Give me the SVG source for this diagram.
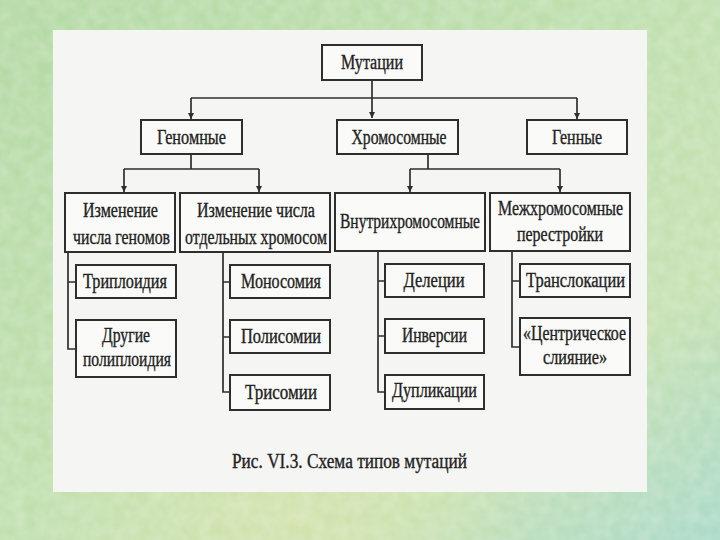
<svg xmlns="http://www.w3.org/2000/svg" width="720" height="540" viewBox="0 0 720 540">
<defs>
<linearGradient id="bg" x1="0" y1="0" x2="1" y2="1">
<stop offset="0" stop-color="#b3d9a4"/>
<stop offset="0.45" stop-color="#bfdfae"/>
<stop offset="0.75" stop-color="#c6e1b2"/>
<stop offset="1" stop-color="#aad9c8"/>
</linearGradient>
<radialGradient id="warm" cx="0.4" cy="0.95" r="0.35">
<stop offset="0" stop-color="#d6e3ac" stop-opacity="0.8"/>
<stop offset="1" stop-color="#d6e3ac" stop-opacity="0"/>
</radialGradient>
<filter id="tex" x="0" y="0" width="100%" height="100%">
<feTurbulence type="fractalNoise" baseFrequency="0.08" numOctaves="2" seed="3"/>
<feColorMatrix values="0 0 0 0 1  0 0 0 0 1  0 0 0 0 1  0 0 0 0.35 -0.08"/>
</filter>
<marker id="arr" viewBox="0 0 8 10" refX="8" refY="5" markerWidth="6" markerHeight="8" orient="auto" markerUnits="userSpaceOnUse">
<path d="M0,1 L8,5 L0,9 Z" fill="#2e2e2e"/>
</marker>
<style>
.box{fill:#fafaf8;stroke:#2e2e2e;stroke-width:2}
.ln{fill:none;stroke:#2e2e2e;stroke-width:1.7}
.t{font-family:"Liberation Serif","Times New Roman",serif;font-size:20px;fill:#222;stroke:#222;stroke-width:0.35;text-anchor:middle}
</style>
</defs>
<rect x="0" y="0" width="720" height="540" fill="url(#bg)"/>
<rect x="0" y="0" width="720" height="540" fill="url(#warm)"/>
<rect x="0" y="0" width="720" height="540" filter="url(#tex)"/>
<rect x="53" y="30" width="594" height="462" fill="#f5f5f3"/>

<g id="connectors">
<path class="ln" d="M372,80 V118" marker-end="url(#arr)"/>
<path class="ln" d="M191,98 H577"/>
<path class="ln" d="M191,98 V119" marker-end="url(#arr)"/>
<path class="ln" d="M577,98 V119" marker-end="url(#arr)"/>
<path class="ln" d="M191,154 V169 M124,169 H259"/>
<path class="ln" d="M124,169 V192" marker-end="url(#arr)"/>
<path class="ln" d="M259,169 V192" marker-end="url(#arr)"/>
<path class="ln" d="M428,154 V169 M410,169 H560"/>
<path class="ln" d="M410,169 V192" marker-end="url(#arr)"/>
<path class="ln" d="M560,169 V192" marker-end="url(#arr)"/>
<path class="ln" d="M68,252 V349 H76 M68,282 H76"/>
<path class="ln" d="M223,252 V392 H230 M223,282 H230 M223,337 H230"/>
<path class="ln" d="M378,251 V392 H385 M378,281 H385 M378,336 H385"/>
<path class="ln" d="M512,251 V347 H520 M512,281 H520"/>
</g>

<g id="n-mutatsii"><rect class="box" x="322" y="45" width="100" height="35"/><text class="t" x="372" y="69" textLength="62" lengthAdjust="spacingAndGlyphs">Мутации</text></g>
<g id="n-genomnye"><rect class="box" x="141" y="120" width="101" height="34"/><text class="t" x="191.5" y="144" textLength="69" lengthAdjust="spacingAndGlyphs">Геномные</text></g>
<g id="n-khromosomnye"><rect class="box" x="337" y="120" width="121" height="34"/><text class="t" x="399" y="144" textLength="95" lengthAdjust="spacingAndGlyphs">Хромосомные</text></g>
<g id="n-gennye"><rect class="box" x="527" y="120" width="100" height="34"/><text class="t" x="577" y="144" textLength="50" lengthAdjust="spacingAndGlyphs">Генные</text></g>

<g id="n-izm-genomov"><rect class="box" x="65" y="193" width="110" height="59"/><text class="t" x="120.5" y="217" textLength="75" lengthAdjust="spacingAndGlyphs">Изменение</text><text class="t" x="121.5" y="244" textLength="97" lengthAdjust="spacingAndGlyphs">числа геномов</text></g>
<g id="n-izm-khromosom"><rect class="box" x="180" y="193" width="150" height="59"/><text class="t" x="256" y="217" textLength="118" lengthAdjust="spacingAndGlyphs">Изменение числа</text><text class="t" x="256" y="244" textLength="142" lengthAdjust="spacingAndGlyphs">отдельных хромосом</text></g>
<g id="n-vnutri"><rect class="box" x="335" y="193" width="150" height="58"/><text class="t" x="410" y="228" textLength="140" lengthAdjust="spacingAndGlyphs">Внутрихромосомные</text></g>
<g id="n-mezh"><rect class="box" x="490" y="193" width="140" height="58"/><text class="t" x="560.5" y="215" textLength="125" lengthAdjust="spacingAndGlyphs">Межхромосомные</text><text class="t" x="560" y="241" textLength="86" lengthAdjust="spacingAndGlyphs">перестройки</text></g>

<g id="n-triploidiya"><rect class="box" x="76" y="265" width="100" height="33"/><text class="t" x="125" y="288" textLength="84" lengthAdjust="spacingAndGlyphs">Триплоидия</text></g>
<g id="n-drugie"><rect class="box" x="76" y="320" width="100" height="57"/><text class="t" x="126" y="342" textLength="48" lengthAdjust="spacingAndGlyphs">Другие</text><text class="t" x="127" y="366" textLength="88" lengthAdjust="spacingAndGlyphs">полиплоидия</text></g>

<g id="n-monosomiya"><rect class="box" x="230" y="265" width="100" height="33"/><text class="t" x="281" y="288" textLength="80" lengthAdjust="spacingAndGlyphs">Моносомия</text></g>
<g id="n-polisomii"><rect class="box" x="230" y="320" width="100" height="33"/><text class="t" x="281" y="343" textLength="80" lengthAdjust="spacingAndGlyphs">Полисомии</text></g>
<g id="n-trisomii"><rect class="box" x="230" y="375" width="100" height="35"/><text class="t" x="281" y="399" textLength="72" lengthAdjust="spacingAndGlyphs">Трисомии</text></g>

<g id="n-deletsii"><rect class="box" x="385" y="264" width="99" height="33"/><text class="t" x="434" y="287" textLength="61" lengthAdjust="spacingAndGlyphs">Делеции</text></g>
<g id="n-inversii"><rect class="box" x="385" y="319" width="99" height="34"/><text class="t" x="434.5" y="342" textLength="65" lengthAdjust="spacingAndGlyphs">Инверсии</text></g>
<g id="n-duplikatsii"><rect class="box" x="385" y="375" width="99" height="34"/><text class="t" x="434.5" y="397" textLength="85" lengthAdjust="spacingAndGlyphs">Дупликации</text></g>

<g id="n-translokatsii"><rect class="box" x="520" y="264" width="110" height="33"/><text class="t" x="575.5" y="287" textLength="99" lengthAdjust="spacingAndGlyphs">Транслокации</text></g>
<g id="n-tsentricheskoe"><rect class="box" x="520" y="318" width="110" height="57"/><text class="t" x="574.5" y="340" textLength="103" lengthAdjust="spacingAndGlyphs">«Центрическое</text><text class="t" x="575" y="364" textLength="64" lengthAdjust="spacingAndGlyphs">слияние»</text></g>

<text class="t" x="349.5" y="468" textLength="235" lengthAdjust="spacingAndGlyphs">Рис. VI.3. Схема типов мутаций</text>
</svg>
